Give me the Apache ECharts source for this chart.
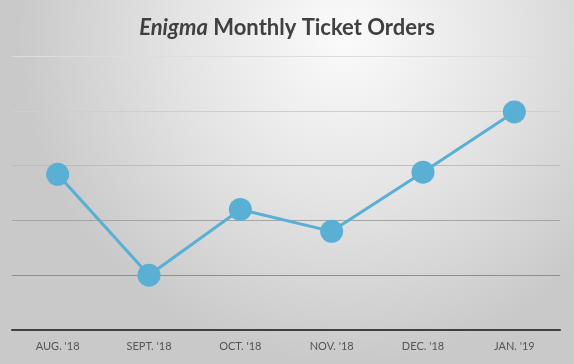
<!DOCTYPE html>
<html><head><meta charset="utf-8">
<style>html,body{margin:0;padding:0;}#c{width:574px;height:364px;}</style>
<script src="https://cdn.jsdelivr.net/npm/echarts@6/dist/echarts.min.js"></script>
</head><body><div id="c"></div>
<script>
const categories = ["AUG. '18", "SEPT. '18", "OCT. '18", "NOV. '18", "DEC. '18", "JAN. '19"];
const orders = [142, 50, 110, 90, 144, 199];
const chart = echarts.init(document.getElementById('c'));
chart.setOption({
  backgroundColor: {
    type: 'radial', x: 0.6, y: 0.1, r: 0.9,
    colorStops: [{offset: 0, color: '#fbfbfb'}, {offset: 0.5, color: '#e4e4e4'}, {offset: 1, color: '#c9c9c9'}]
  },
  title: {
    text: '{i|Enigma} Monthly Ticket Orders',
    left: 'center', top: 12,
    textStyle: {
      fontFamily: 'Lato', fontSize: 22, fontWeight: 'bold', color: '#404040',
      rich: { i: { fontFamily: 'Lato', fontSize: 22, fontStyle: 'italic', fontWeight: 'bold', color: '#404040' } }
    }
  },
  grid: { left: 12, right: 14, top: 56, bottom: 34 },
  xAxis: {
    type: 'category', data: categories, boundaryGap: true,
    axisLine: { lineStyle: { color: '#404040', width: 2 } },
    axisTick: { show: false },
    axisLabel: { color: '#555555', fontFamily: 'Lato', fontSize: 11, margin: 11 }
  },
  yAxis: {
    type: 'value', min: 0, max: 250, interval: 50,
    axisLabel: { show: false }, axisLine: { show: false }, axisTick: { show: false },
    splitLine: { lineStyle: { color: ['#888888', '#8e8e8e', '#a4a4a4', '#bcbcbc', '#cecece', '#dddddd'], width: 1 } }
  },
  series: [{
    type: 'line', data: orders, symbol: 'circle', symbolSize: 23,
    lineStyle: { color: '#5aafd5', width: 3 },
    itemStyle: { color: '#5aafd5' },
    animation: false
  }]
});
</script></body></html>
